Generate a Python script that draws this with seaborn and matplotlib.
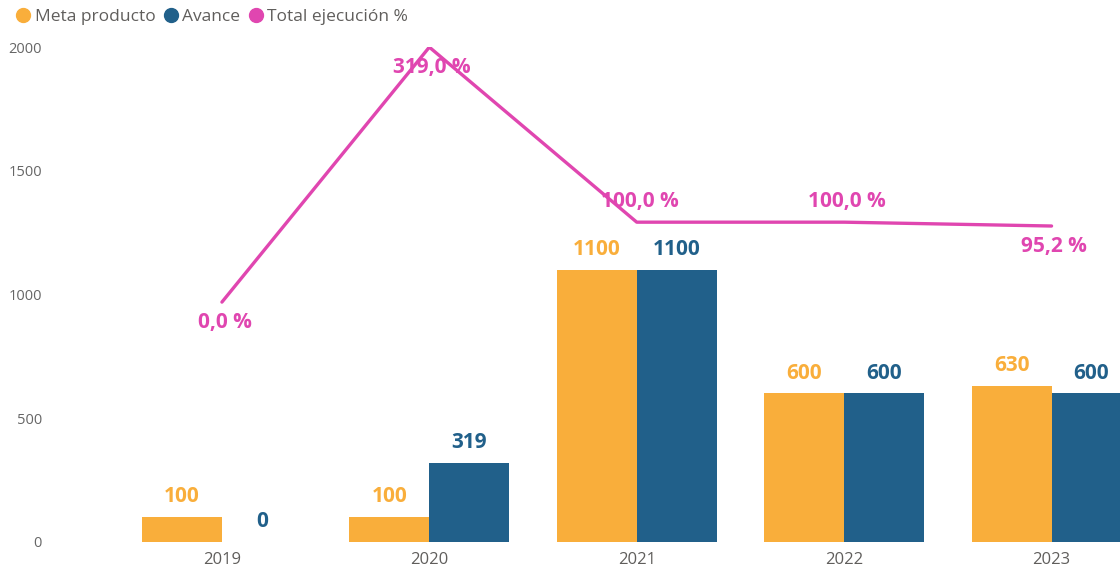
import numpy as np
import pandas as pd
import seaborn as sns
import matplotlib.pyplot as plt
from matplotlib.lines import Line2D

years = ["2019", "2020", "2021", "2022", "2023"]
meta_producto = [100, 100, 1100, 600, 630]
avance = [0, 319, 1100, 600, 600]
total_ejecucion = [0.0, 319.0, 100.0, 100.0, 95.2]

ORANGE = "#F9AE3B"
BLUE = "#21608A"
PINK = "#E046B0"
GREY = "#605E5C"

sns.set_theme(style="white")
plt.rcParams["font.family"] = ["Open Sans", "DejaVu Sans"]

bars = pd.DataFrame({
    "Año": years * 2,
    "Valor": meta_producto + avance,
    "Serie": ["Meta producto"] * len(years) + ["Avance"] * len(years),
})
line = pd.DataFrame({"Año": years, "Pct": total_ejecucion})

fig = plt.figure(figsize=(11.2, 5.68), dpi=100)
ax = fig.add_axes([0.05, 0.046, 0.95, 0.871])

sns.barplot(
    data=bars, x="Año", y="Valor", hue="Serie",
    palette=[ORANGE, BLUE], width=0.77, gap=0, saturation=1,
    linewidth=0, legend=False, ax=ax,
)

# bar value labels
label_colors = [ORANGE, BLUE]
for cont, col in zip(ax.containers, label_colors):
    for rect in cont:
        h = rect.get_height()
        ax.annotate(
            f"{h:.0f}", (rect.get_x() + rect.get_width() / 2, h),
            xytext=(0, 7), textcoords="offset points",
            ha="center", va="bottom", color=col,
            fontsize=15, fontweight="bold",
        )

ax.set_ylim(0, 2000)
ax.set_yticks([0, 500, 1000, 1500, 2000])
ax.set_xlim(-0.8, 4.33)
ax.set_xlabel("")
ax.set_ylabel("")
ax.tick_params(axis="y", colors="#666666", labelsize=10.5, length=0, pad=10)
ax.tick_params(axis="x", colors=GREY, labelsize=12, length=0, pad=7)
for s in ax.spines.values():
    s.set_visible(False)

# percent line on hidden secondary axis
ax2 = ax.twinx()
sns.lineplot(data=line, x=np.arange(len(years)), y="Pct", color=PINK,
             linewidth=2.4, ax=ax2)
ax2.set_ylim(-300, 319)
ax2.set_xlim(-0.8, 4.33)
ax2.set_axis_off()

below = {0, 1, 4}
for i, p in enumerate(total_ejecucion):
    dy = -15 if i in below else 15
    ax2.annotate(
        f"{p:.1f} %".replace(".", ","), (i, p),
        xytext=(2, dy), textcoords="offset points",
        ha="center", va="center", color=PINK,
        fontsize=15, fontweight="bold", annotation_clip=False,
    )

handles = [
    Line2D([], [], marker="o", ls="", color=c, markersize=10)
    for c in (ORANGE, BLUE, PINK)
]
fig.legend(
    handles, ["Meta producto", "Avance", "Total ejecución %"],
    loc="upper left", bbox_to_anchor=(0.0, 1.012), ncol=3, frameon=False,
    handlelength=0.9, handletextpad=0.2, columnspacing=0.45,
    fontsize=12.5, labelcolor=GREY,
)

fig.savefig("out.png", dpi=100)
